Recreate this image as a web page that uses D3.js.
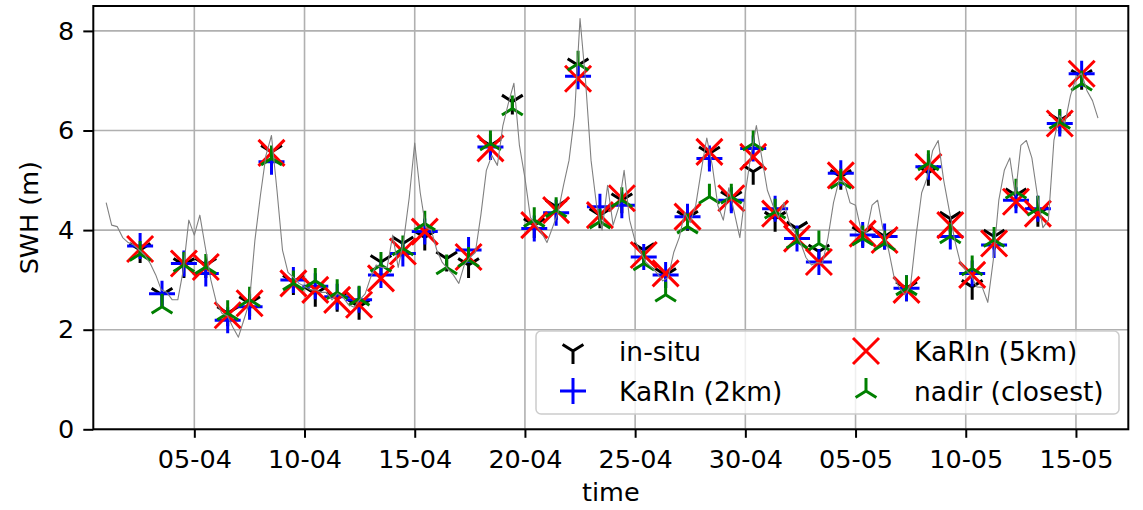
<!DOCTYPE html>
<html>
<head>
<meta charset="utf-8">
<script src="https://cdn.jsdelivr.net/npm/d3@7"></script>
<style>
  html, body { margin: 0; padding: 0; background: #ffffff; }
  svg { display: block; font-family: "DejaVu Sans", sans-serif; }
</style>
</head>
<body>
<svg id="chart" width="1143" height="510"></svg>
<script>
// ---- data -------------------------------------------------------------
const seriesNames = ["in-situ", "KaRIn (2km)", "KaRIn (5km)", "nadir (closest)"];

// overpass times (UTC)
const passTimes = [
  "2023-04-02 12:58", "2023-04-03 12:49", "2023-04-04 12:39", "2023-04-05 12:30",
  "2023-04-06 12:20", "2023-04-07 12:11", "2023-04-08 12:02", "2023-04-09 11:52",
  "2023-04-10 11:43", "2023-04-11 11:33", "2023-04-12 11:24", "2023-04-13 11:14",
  "2023-04-14 11:05", "2023-04-15 10:56", "2023-04-16 10:46", "2023-04-17 10:37",
  "2023-04-18 10:27", "2023-04-19 10:18", "2023-04-20 10:09", "2023-04-21 09:59",
  "2023-04-22 09:50", "2023-04-23 09:40", "2023-04-24 09:31", "2023-04-25 09:22",
  "2023-04-26 09:12", "2023-04-27 09:03", "2023-04-28 08:53", "2023-04-29 08:44",
  "2023-04-30 08:34", "2023-05-01 08:25", "2023-05-02 08:16", "2023-05-03 08:06",
  "2023-05-04 07:57", "2023-05-05 07:47", "2023-05-06 07:38", "2023-05-07 07:29",
  "2023-05-08 07:19", "2023-05-09 07:10", "2023-05-10 07:00", "2023-05-11 06:51",
  "2023-05-12 06:41", "2023-05-13 06:32", "2023-05-14 06:23", "2023-05-15 06:13"
];

// SWH (m) at each overpass; null = no valid value
const insitu = [
  3.60, 2.70, 3.30, 3.30, 2.33, 2.53, 5.57, 2.96, 2.72, 2.62, 2.46, 3.36,
  3.73, 3.85, 3.43, 3.30, 5.70, 6.58, 4.10, 4.47, 7.31, 4.30, 4.60, 3.60,
  3.10, 4.25, 5.54, 4.64, 5.17, 4.23, 4.03, 3.57, 5.07, 3.93, 3.87, 2.83,
  5.15, 4.23, 2.86, 3.87, 4.70, 4.33, 6.20, 7.08
];
const karin2km = [
  3.68, 2.72, 3.33, 3.13, 2.19, 2.46, 5.37, 3.00, 2.87, 2.66, 2.60, 3.10,
  3.53, 3.97, null, 3.60, 5.67, null, 4.03, 4.35, 7.09, 4.47, 4.50, 3.46,
  3.10, 4.27, 5.44, 4.60, 5.64, 4.43, 3.83, 3.36, 5.14, 3.90, 3.87, 2.83,
  5.27, 3.87, 3.13, 3.70, 4.60, 4.43, 6.14, 7.14
];
const karin5km = [
  3.62, null, 3.33, 3.26, 2.29, 2.53, 5.55, 2.93, 2.80, 2.60, 2.50, 3.03,
  3.57, 3.97, null, 3.46, 5.64, null, 4.10, 4.40, 7.04, 4.30, 4.64, 3.50,
  3.13, 4.27, 5.57, 4.64, 5.47, 4.33, 3.83, 3.36, 5.10, 3.93, 3.80, 2.80,
  5.27, 4.10, 3.10, 3.73, 4.57, 4.33, 6.14, 7.14
];
const nadir = [
  3.52, 2.46, 3.30, 3.26, 2.33, 2.60, 5.44, 2.93, 2.98, 2.75, 2.62, 3.30,
  3.63, 4.13, 3.25, 3.40, 5.74, 6.44, 4.20, 4.40, 7.34, 4.17, 4.60, 3.33,
  2.70, 4.07, 4.67, 4.67, 5.74, 4.37, 3.77, 3.73, 4.97, 3.83, 3.73, 2.83,
  5.34, 3.87, 3.23, 3.80, 4.77, 4.43, 6.17, 6.94
];

// buoy record, 6-hourly from buoyStart
const buoyStart = "2023-04-01 00:00";
const buoyStepHours = 6;
const buoySwh = [
  4.55, 4.10, 4.07, 3.85, 3.75, 3.70, 3.60, 3.50, 3.33, 3.10, 2.80, 2.75,
  2.60, 2.60, 3.20, 4.20, 3.90, 4.30, 3.65, 3.00, 2.55, 2.33, 2.28, 2.05,
  1.85, 2.20, 2.55, 3.80, 4.70, 5.50, 5.90, 4.80, 3.60, 3.15, 3.05, 2.93,
  2.87, 2.80, 2.80, 2.75, 2.75, 2.60, 2.73, 2.65, 2.50, 2.45, 2.60, 2.72,
  3.05, 3.30, 3.25, 3.25, 3.90, 3.25, 3.80, 4.65, 5.75, 4.75, 4.05, 4.00,
  3.60, 3.35, 3.22, 3.10, 2.93, 3.30, 3.45, 3.55, 4.30, 5.20, 5.50, 5.30,
  6.10, 6.55, 6.95, 5.70, 5.05, 4.25, 4.10, 3.95, 3.75, 4.05, 4.35, 4.90,
  5.40, 6.30, 8.25, 7.00, 5.40, 4.50, 4.00, 4.90, 4.10, 4.45, 5.20, 4.20,
  3.78, 3.55, 3.35, 3.25, 3.13, 2.98, 3.05, 3.55, 3.85, 4.35, 4.15, 4.50,
  5.20, 5.85, 5.30, 4.50, 4.20, 4.85, 4.35, 3.85, 4.75, 5.50, 6.10, 5.45,
  4.80, 4.50, 4.25, 4.55, 4.15, 3.95, 3.75, 3.45, 3.30, 3.35, 3.33, 3.85,
  4.55, 5.00, 4.95, 4.55, 4.50, 4.00, 3.95, 4.50, 4.60, 4.00, 3.60, 3.05,
  2.83, 2.70, 2.90, 3.90, 4.75, 5.05, 5.60, 5.80, 5.00, 4.40, 3.80, 3.35,
  3.20, 3.08, 2.86, 2.85, 2.55, 3.40, 4.60, 5.20, 5.45, 4.70, 5.70, 5.80,
  5.45, 4.70, 4.05, 4.20, 5.80, 6.30, 6.15, 6.70, 7.05, 7.15, 6.80, 6.60,
  6.25
];

const xTickDates = [
  "2023-04-05", "2023-04-10", "2023-04-15", "2023-04-20", "2023-04-25",
  "2023-04-30", "2023-05-05", "2023-05-10", "2023-05-15"
];
const yTicks = [0, 2, 4, 6, 8];
const xLimits = ["2023-03-31 10:00", "2023-05-17 09:00"];
const yLimits = [0, 8.5];

// ---- layout -----------------------------------------------------------
const W = 1143, H = 510;
const plot = { left: 93.3, right: 1128.3, top: 6, bottom: 429.3 };
const fontSize = 25.5;
const legendFontSize = 26.5;

const parseTime = d3.utcParse("%Y-%m-%d %H:%M");
const parseDay = d3.utcParse("%Y-%m-%d");

const x = d3.scaleUtc()
  .domain(xLimits.map(parseTime))
  .range([plot.left, plot.right]);
const y = d3.scaleLinear()
  .domain(yLimits)
  .range([plot.bottom, plot.top]);

const svg = d3.select("#chart");
svg.append("rect").attr("width", W).attr("height", H).attr("fill", "#ffffff");

const clip = svg.append("defs").append("clipPath").attr("id", "plotClip");
clip.append("rect")
  .attr("x", plot.left).attr("y", plot.top)
  .attr("width", plot.right - plot.left)
  .attr("height", plot.bottom - plot.top);

// grid
const xTicks = xTickDates.map(parseDay);
const grid = svg.append("g").attr("stroke", "#b0b0b0").attr("stroke-width", 1.6);
grid.selectAll("line.gx").data(xTicks).join("line")
  .attr("x1", d => x(d)).attr("x2", d => x(d))
  .attr("y1", plot.top).attr("y2", plot.bottom);
grid.selectAll("line.gy").data(yTicks).join("line")
  .attr("x1", plot.left).attr("x2", plot.right)
  .attr("y1", d => y(d)).attr("y2", d => y(d));

// marker shapes (half-size r)
function markerPath(kind, r) {
  const p = d3.path();
  if (kind === "plus") {
    p.moveTo(-r, 0); p.lineTo(r, 0);
    p.moveTo(0, -r); p.lineTo(0, r);
  } else if (kind === "cross") {
    p.moveTo(-r, -r); p.lineTo(r, r);
    p.moveTo(-r, r); p.lineTo(r, -r);
  } else if (kind === "triDown") {
    p.moveTo(0, 0); p.lineTo(0, r);
    p.moveTo(0, 0); p.lineTo(0.8 * r, -0.5 * r);
    p.moveTo(0, 0); p.lineTo(-0.8 * r, -0.5 * r);
  } else if (kind === "triUp") {
    p.moveTo(0, 0); p.lineTo(0, -r);
    p.moveTo(0, 0); p.lineTo(0.8 * r, 0.5 * r);
    p.moveTo(0, 0); p.lineTo(-0.8 * r, 0.5 * r);
  }
  return p.toString();
}

const series = [
  { name: seriesNames[0], values: insitu,   kind: "triDown", color: "#000000" },
  { name: seriesNames[1], values: karin2km, kind: "plus",    color: "#0000ff" },
  { name: seriesNames[2], values: karin5km, kind: "cross",   color: "#ff0000" },
  { name: seriesNames[3], values: nadir,    kind: "triUp",   color: "#008000" }
];
const markerR = 13;
const passDates = passTimes.map(parseTime);

const marks = svg.append("g").attr("clip-path", "url(#plotClip)");
series.forEach(s => {
  const pts = s.values
    .map((v, i) => ({ t: passDates[i], v }))
    .filter(d => d.v !== null);
  marks.append("g").selectAll("path").data(pts).join("path")
    .attr("transform", d => `translate(${x(d.t)},${y(d.v)})`)
    .attr("d", markerPath(s.kind, markerR))
    .attr("fill", "none")
    .attr("stroke", s.color)
    .attr("stroke-width", 3);
});

// buoy time series
const t0 = parseTime(buoyStart);
const buoy = buoySwh.map((v, i) => ({ t: d3.utcHour.offset(t0, i * buoyStepHours), v }));
marks.append("path")
  .datum(buoy)
  .attr("fill", "none")
  .attr("stroke", "#808080")
  .attr("stroke-width", 1.1)
  .attr("stroke-linejoin", "round")
  .attr("d", d3.line().x(d => x(d.t)).y(d => y(d.v)));

// axes
const xAxis = d3.axisBottom(x)
  .tickValues(xTicks)
  .tickFormat(d3.utcFormat("%d-%m"))
  .tickSize(8.5)
  .tickPadding(12);
const gx = svg.append("g")
  .attr("transform", `translate(0,${plot.bottom})`)
  .call(xAxis);

const yAxis = d3.axisLeft(y)
  .tickValues(yTicks)
  .tickFormat(d3.format("d"))
  .tickSize(10)
  .tickPadding(9);
const gy = svg.append("g")
  .attr("transform", `translate(${plot.left},0)`)
  .call(yAxis);

[gx, gy].forEach(g => {
  g.select(".domain").remove();
  g.selectAll(".tick line").attr("stroke", "#000").attr("stroke-width", 2);
  g.selectAll(".tick text")
    .attr("fill", "#000")
    .style("font-family", "'DejaVu Sans', sans-serif")
    .style("font-size", fontSize + "px");
});

// frame
svg.append("rect")
  .attr("x", plot.left).attr("y", plot.top)
  .attr("width", plot.right - plot.left)
  .attr("height", plot.bottom - plot.top)
  .attr("fill", "none").attr("stroke", "#000").attr("stroke-width", 2);

// axis titles
svg.append("text")
  .attr("x", (plot.left + plot.right) / 2)
  .attr("y", 501)
  .attr("text-anchor", "middle")
  .style("font-size", fontSize + "px")
  .text("time");
svg.append("text")
  .attr("transform", `translate(38,${(plot.top + plot.bottom) / 2}) rotate(-90)`)
  .attr("text-anchor", "middle")
  .style("font-size", fontSize + "px")
  .text("SWH (m)");

// legend
const legend = svg.append("g");
legend.append("rect")
  .attr("x", 536).attr("y", 331)
  .attr("width", 583).attr("height", 83)
  .attr("rx", 5).attr("ry", 5)
  .attr("fill", "#ffffff").attr("fill-opacity", 0.8)
  .attr("stroke", "#cccccc").attr("stroke-width", 1.5);

const legendSlots = [
  { mx: 573, tx: 619, cy: 351 },
  { mx: 573, tx: 619, cy: 391 },
  { mx: 866, tx: 914, cy: 351 },
  { mx: 866, tx: 914, cy: 391 }
];
series.forEach((s, i) => {
  const slot = legendSlots[i];
  legend.append("path")
    .attr("transform", `translate(${slot.mx},${slot.cy})`)
    .attr("d", markerPath(s.kind, markerR))
    .attr("fill", "none")
    .attr("stroke", s.color)
    .attr("stroke-width", 3);
  legend.append("text")
    .attr("x", slot.tx).attr("y", slot.cy)
    .attr("dominant-baseline", "central")
    .style("font-size", legendFontSize + "px")
    .text(s.name);
});
</script>
</body>
</html>
